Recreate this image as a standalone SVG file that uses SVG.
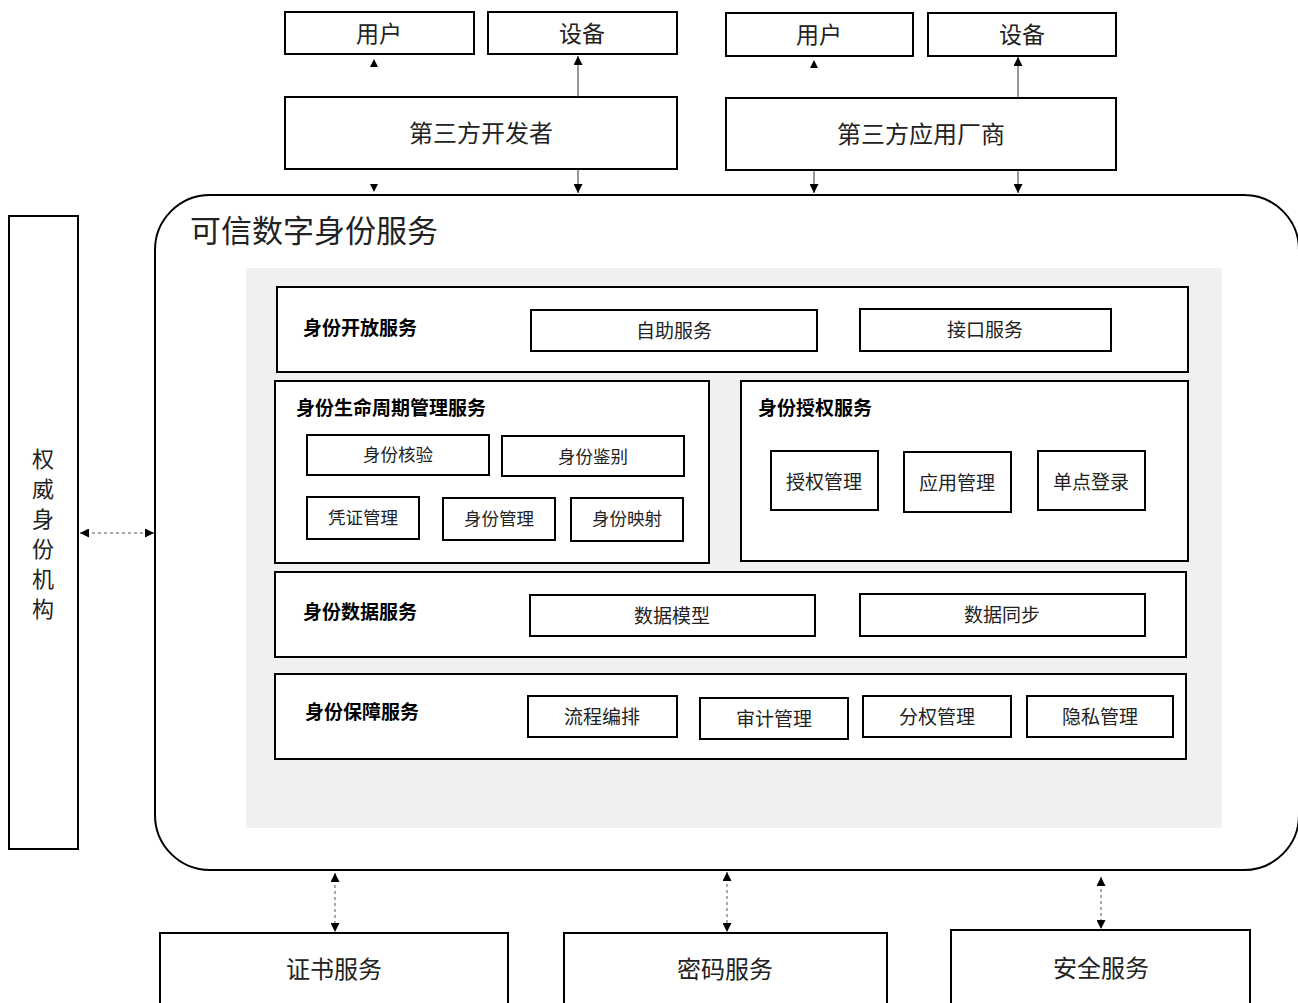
<svg xmlns="http://www.w3.org/2000/svg" width="1298" height="1003" viewBox="0 0 1298 1003">
<style>
  .box{fill:#fff;stroke:#000;stroke-width:2}
  .t{font-family:"Liberation Serif","Noto Sans CJK SC",serif;fill:#222;text-anchor:middle;dominant-baseline:central}
  .lbl{font-family:"Liberation Serif","Noto Sans CJK SC",serif;fill:#000;font-weight:bold;font-size:19px;dominant-baseline:central}
  .ln{stroke:#333;stroke-width:1;fill:none}
  .dash{stroke:#555;stroke-width:1;stroke-dasharray:3,3;fill:none}
  .ah{fill:#000}
</style>
<defs>
  <marker id="arr" viewBox="0 0 10 10" refX="10" refY="5" markerWidth="9" markerHeight="9" markerUnits="userSpaceOnUse" orient="auto-start-reverse">
    <path d="M0,0 L10,5 L0,10 Z" fill="#000"/>
  </marker>
</defs>
<rect width="1298" height="1003" fill="#fff"/>

<g id="dev-user"><rect class="box" x="285" y="12" width="189" height="42"/><text class="t" x="379" y="34" font-size="23">用户</text></g>
<g id="dev-device"><rect class="box" x="488" y="12" width="189" height="42"/><text class="t" x="582" y="34" font-size="23">设备</text></g>
<g id="developer"><rect class="box" x="285" y="97" width="392" height="72"/><text class="t" x="481" y="134" font-size="24">第三方开发者</text></g>

<g id="ven-user"><rect class="box" x="726" y="13" width="187" height="43"/><text class="t" x="819" y="35" font-size="23">用户</text></g>
<g id="ven-device"><rect class="box" x="928" y="13" width="188" height="43"/><text class="t" x="1022" y="35" font-size="23">设备</text></g>
<g id="vendor"><rect class="box" x="726" y="98" width="390" height="72"/><text class="t" x="921" y="135" font-size="24">第三方应用厂商</text></g>

<g id="authority"><rect class="box" x="9" y="216" width="69" height="633"/>
  <text class="t" x="43" y="459" font-size="22">权</text>
  <text class="t" x="43" y="489" font-size="22">威</text>
  <text class="t" x="43" y="519" font-size="22">身</text>
  <text class="t" x="43" y="549" font-size="22">份</text>
  <text class="t" x="43" y="579" font-size="22">机</text>
  <text class="t" x="43" y="609" font-size="22">构</text>
</g>

<g id="trusted">
  <rect class="box" x="155" y="195" width="1144" height="675" rx="55" ry="55"/>
  <text x="190" y="231" font-size="31" style="font-family:'Liberation Serif','Noto Sans CJK SC',serif;dominant-baseline:central" fill="#222">可信数字身份服务</text>
  <rect x="246" y="268" width="976" height="560" fill="#f0f0f0"/>
</g>

<g id="open">
  <rect class="box" x="277" y="287" width="911" height="85"/>
  <text class="lbl" x="303" y="328">身份开放服务</text>
  <rect class="box" x="531" y="310" width="286" height="41"/><text class="t" x="674" y="331" font-size="19">自助服务</text>
  <rect class="box" x="860" y="309" width="251" height="42"/><text class="t" x="985" y="330" font-size="19">接口服务</text>
</g>

<g id="lifecycle">
  <rect class="box" x="275" y="381" width="434" height="182"/>
  <text class="lbl" x="296" y="408">身份生命周期管理服务</text>
  <rect class="box" x="307" y="435" width="182" height="40"/><text class="t" x="398" y="455" font-size="17.5">身份核验</text>
  <rect class="box" x="502" y="436" width="182" height="40"/><text class="t" x="593" y="457" font-size="17.5">身份鉴别</text>
  <rect class="box" x="307" y="497" width="112" height="42"/><text class="t" x="363" y="518" font-size="17.5">凭证管理</text>
  <rect class="box" x="443" y="498" width="112" height="42"/><text class="t" x="499" y="519" font-size="17.5">身份管理</text>
  <rect class="box" x="571" y="498" width="112" height="43"/><text class="t" x="627" y="519" font-size="17.5">身份映射</text>
</g>

<g id="authz">
  <rect class="box" x="741" y="381" width="447" height="180"/>
  <text class="lbl" x="758" y="408">身份授权服务</text>
  <rect class="box" x="771" y="451" width="107" height="59"/><text class="t" x="824" y="482" font-size="19">授权管理</text>
  <rect class="box" x="904" y="452" width="107" height="60"/><text class="t" x="957" y="483" font-size="19">应用管理</text>
  <rect class="box" x="1038" y="451" width="107" height="59"/><text class="t" x="1091" y="482" font-size="19">单点登录</text>
</g>

<g id="data">
  <rect class="box" x="275" y="572" width="911" height="85"/>
  <text class="lbl" x="303" y="612">身份数据服务</text>
  <rect class="box" x="530" y="595" width="285" height="41"/><text class="t" x="672" y="616" font-size="19">数据模型</text>
  <rect class="box" x="860" y="594" width="285" height="42"/><text class="t" x="1002" y="615" font-size="19">数据同步</text>
</g>

<g id="assure">
  <rect class="box" x="275" y="674" width="911" height="85"/>
  <text class="lbl" x="305" y="712">身份保障服务</text>
  <rect class="box" x="528" y="696" width="149" height="41"/><text class="t" x="602" y="717" font-size="19">流程编排</text>
  <rect class="box" x="700" y="698" width="148" height="41"/><text class="t" x="774" y="719" font-size="19">审计管理</text>
  <rect class="box" x="863" y="696" width="148" height="41"/><text class="t" x="937" y="717" font-size="19">分权管理</text>
  <rect class="box" x="1027" y="696" width="146" height="41"/><text class="t" x="1100" y="717" font-size="19">隐私管理</text>
</g>

<g id="cert"><rect class="box" x="160" y="933" width="348" height="90"/><text class="t" x="334" y="970" font-size="24">证书服务</text></g>
<g id="crypto"><rect class="box" x="564" y="933" width="323" height="90"/><text class="t" x="725" y="970" font-size="24">密码服务</text></g>
<g id="security"><rect class="box" x="951" y="930" width="299" height="93"/><text class="t" x="1101" y="969" font-size="24">安全服务</text></g>

<g id="connectors">
  <path class="ah" d="M370,67 L374,59 L378,67 Z"/>
  <line class="ln" x1="578" y1="97" x2="578" y2="56" marker-end="url(#arr)"/>
  <path class="ah" d="M370,184 L374,192 L378,184 Z"/>
  <line class="ln" x1="578" y1="169" x2="578" y2="193" marker-end="url(#arr)"/>
  <path class="ah" d="M810,68 L814,60 L818,68 Z"/>
  <line class="ln" x1="1018" y1="98" x2="1018" y2="57" marker-end="url(#arr)"/>
  <line class="ln" x1="814" y1="170" x2="814" y2="193" marker-end="url(#arr)"/>
  <line class="ln" x1="1018" y1="170" x2="1018" y2="193" marker-end="url(#arr)"/>
  <line class="dash" x1="80" y1="533" x2="154" y2="533" marker-start="url(#arr)" marker-end="url(#arr)"/>
  <line class="dash" x1="335" y1="873" x2="335" y2="932" marker-start="url(#arr)" marker-end="url(#arr)"/>
  <line class="dash" x1="727" y1="872" x2="727" y2="932" marker-start="url(#arr)" marker-end="url(#arr)"/>
  <line class="dash" x1="1101" y1="877" x2="1101" y2="929" marker-start="url(#arr)" marker-end="url(#arr)"/>
</g>
</svg>
